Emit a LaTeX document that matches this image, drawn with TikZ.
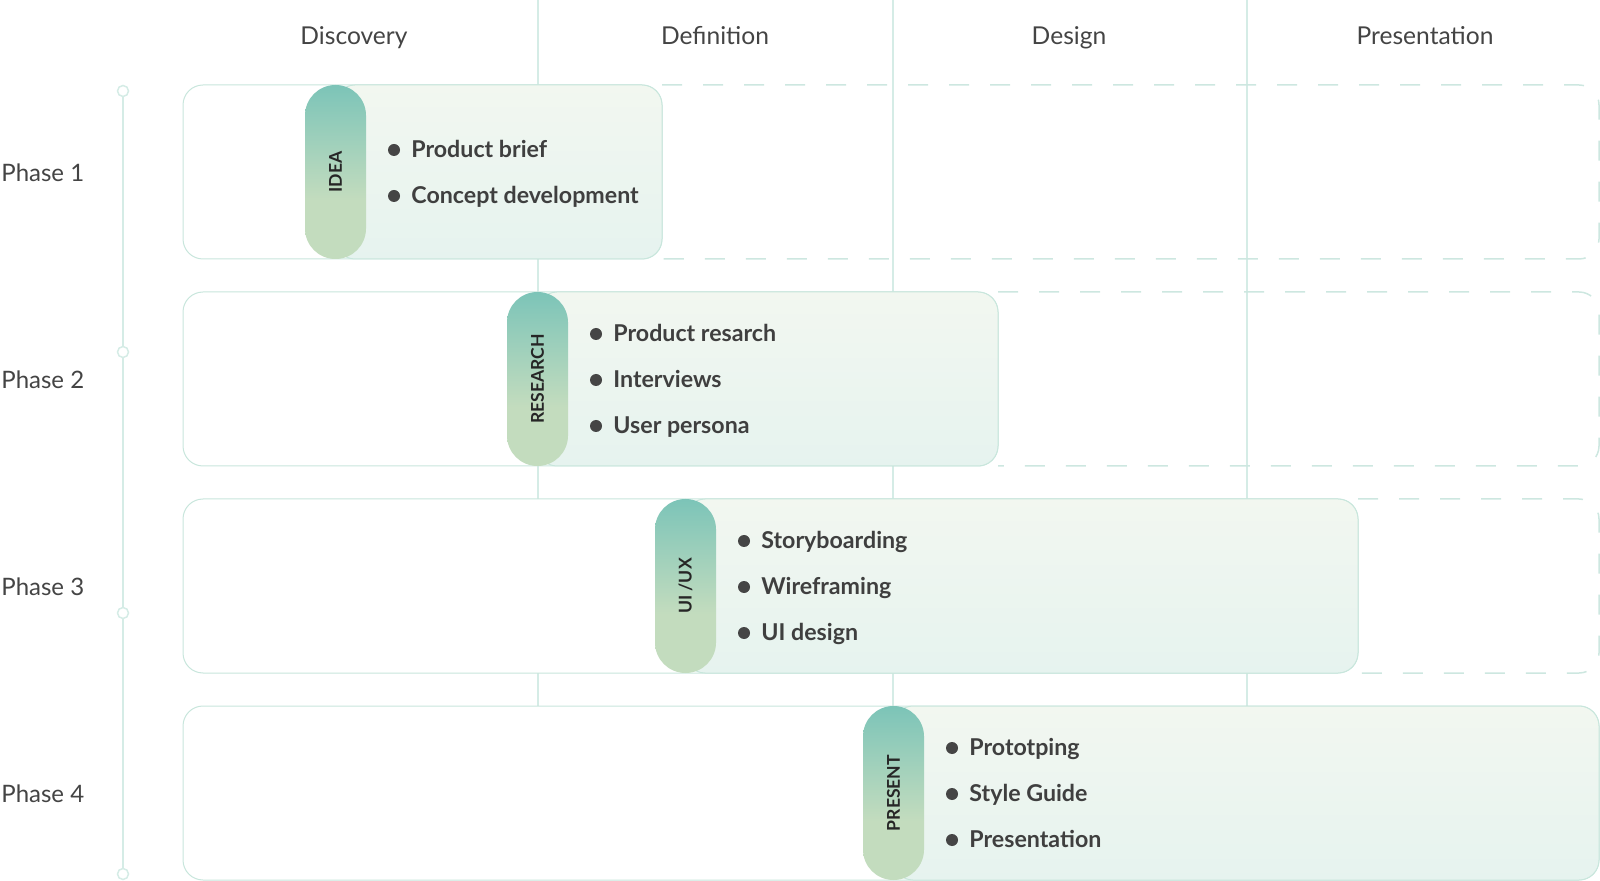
\documentclass[tikz,border=0pt]{standalone}
\usepackage{fontspec}
\setmainfont{Lato}
\definecolor{pillteal}{HTML}{7CC4B8}
\definecolor{pillgreen}{HTML}{C3DCBE}
\definecolor{boxtop}{HTML}{F2F7F0}
\definecolor{boxbot}{HTML}{E6F3EF}
\definecolor{boxline}{HTML}{C8E6DC}
\definecolor{gridc}{HTML}{D5ECE6}
\definecolor{dashc}{HTML}{CDE7E0}
\definecolor{txt}{HTML}{444444}
\definecolor{itemtxt}{HTML}{3F3F3F}
\definecolor{bulc}{HTML}{454545}
\pgfdeclareverticalshading{pillsh}{100bp}{color(0bp)=(pillgreen); color(25bp)=(pillgreen); color(42bp)=(pillgreen); color(75bp)=(pillteal); color(100bp)=(pillteal)}
\tikzset{
  gridline/.style={draw=gridc, line width=0.75pt},
  dashline/.style={draw=dashc, line width=0.75pt, dash pattern=on 10pt off 10.5pt, rounded corners=10pt},
  outerbox/.style={draw=boxline, line width=0.5pt, fill=white, rounded corners=10pt},
  fillbox/.style={draw=boxline, line width=0.5pt, top color=boxtop, bottom color=boxbot, rounded corners=10pt},
  pill/.style={shading=pillsh, rounded corners=15.2pt},
  hdr/.style={font=\fontsize{12.3}{14}\selectfont, text=txt, inner sep=0pt, anchor=base},
  phase/.style={font=\fontsize{12}{14}\selectfont, text=txt, inner sep=0pt, anchor=mid west},
  pilltxt/.style={font=\bfseries\fontsize{8.8}{10}\selectfont, text=black!85, rotate=90, inner sep=0pt},
  bul/.style={circle, fill=bulc, inner sep=0pt, minimum size=6pt},
  item/.style={font=\bfseries\fontsize{11.6}{13}\selectfont, text=itemtxt, inner sep=0pt, anchor=mid west},
  tdot/.style={circle, draw=gridc, line width=0.75pt, fill=white, inner sep=0pt, minimum size=5.5pt},
}
\begin{document}
\begin{tikzpicture}[x=0.5pt,y=-0.5pt]
\useasboundingbox (0,0) rectangle (1600,881);
% column grid lines
\coordinate (g1a) at (538,0); \coordinate (g1b) at (538,706);
\coordinate (g2a) at (893,0); \coordinate (g2b) at (893,706);
\coordinate (g3a) at (1247,0); \coordinate (g3b) at (1247,706);
\draw[gridline] (g1a) -- (g1b);
\draw[gridline] (g2a) -- (g2b);
\draw[gridline] (g3a) -- (g3b);
% headers
\node[hdr] (h1) at (354,45) {Discovery};
\node[hdr] (h2) at (715,45) {Definition};
\node[hdr] (h3) at (1069,45) {Design};
\node[hdr] (h4) at (1425,45) {Presentation};
% timeline
\node[tdot] (t1) at (123,91) {};
\node[tdot] (t2) at (123,352) {};
\node[tdot] (t3) at (123,613) {};
\node[tdot] (t4) at (123,874) {};
\draw[gridline] (t1) -- (t2);
\draw[gridline] (t2) -- (t3);
\draw[gridline] (t3) -- (t4);
% phase labels
\node[phase] (ph1) at (1,176) {Phase 1};
\node[phase] (ph2) at (1,383) {Phase 2};
\node[phase] (ph3) at (1,590) {Phase 3};
\node[phase] (ph4) at (1,797) {Phase 4};
% row 1
\draw[dashline] (662,85) -- (1599,85) -- (1599,259) -- (662,259);
\draw[outerbox] (183,85) rectangle (662,259);
\path[fillbox] (335,85) rectangle (662,259);
\shade[pill] (305,85) rectangle (366,259);
\node[pilltxt] (p1) at (335.5,172) {IDEA};
\node[bul] (b11) at (394,150) {}; \node[item] (i11) at (411,152) {Product brief};
\node[bul] (b12) at (394,196) {}; \node[item] (i12) at (411,198) {Concept development};
% row 2
\draw[dashline] (998,292) -- (1599,292) -- (1599,466) -- (998,466);
\draw[outerbox] (183,292) rectangle (998,466);
\path[fillbox] (537,292) rectangle (998,466);
\shade[pill] (507,292) rectangle (568,466);
\node[pilltxt] (p2) at (537.5,379) {RESEARCH};
\node[bul] (b21) at (596,334) {}; \node[item] (i21) at (613,336) {Product resarch};
\node[bul] (b22) at (596,380) {}; \node[item] (i22) at (613,382) {Interviews};
\node[bul] (b23) at (596,426) {}; \node[item] (i23) at (613,428) {User persona};
% row 3
\draw[dashline] (1358,499) -- (1599,499) -- (1599,673) -- (1358,673);
\draw[outerbox] (183,499) rectangle (1358,673);
\path[fillbox] (685,499) rectangle (1358,673);
\shade[pill] (655,499) rectangle (716,673);
\node[pilltxt] (p3) at (685.5,586) {UI /UX};
\node[bul] (b31) at (744,541) {}; \node[item] (i31) at (761,543) {Storyboarding};
\node[bul] (b32) at (744,587) {}; \node[item] (i32) at (761,589) {Wireframing};
\node[bul] (b33) at (744,633) {}; \node[item] (i33) at (761,635) {UI design};
% row 4
\draw[outerbox] (183,706) rectangle (1599,880);
\path[fillbox] (893,706) rectangle (1599,880);
\shade[pill] (863,706) rectangle (924,880);
\node[pilltxt] (p4) at (893.5,793) {PRESENT};
\node[bul] (b41) at (952,748) {}; \node[item] (i41) at (969,750) {Prototping};
\node[bul] (b42) at (952,794) {}; \node[item] (i42) at (969,796) {Style Guide};
\node[bul] (b43) at (952,840) {}; \node[item] (i43) at (969,842) {Presentation};
\end{tikzpicture}
\end{document}
